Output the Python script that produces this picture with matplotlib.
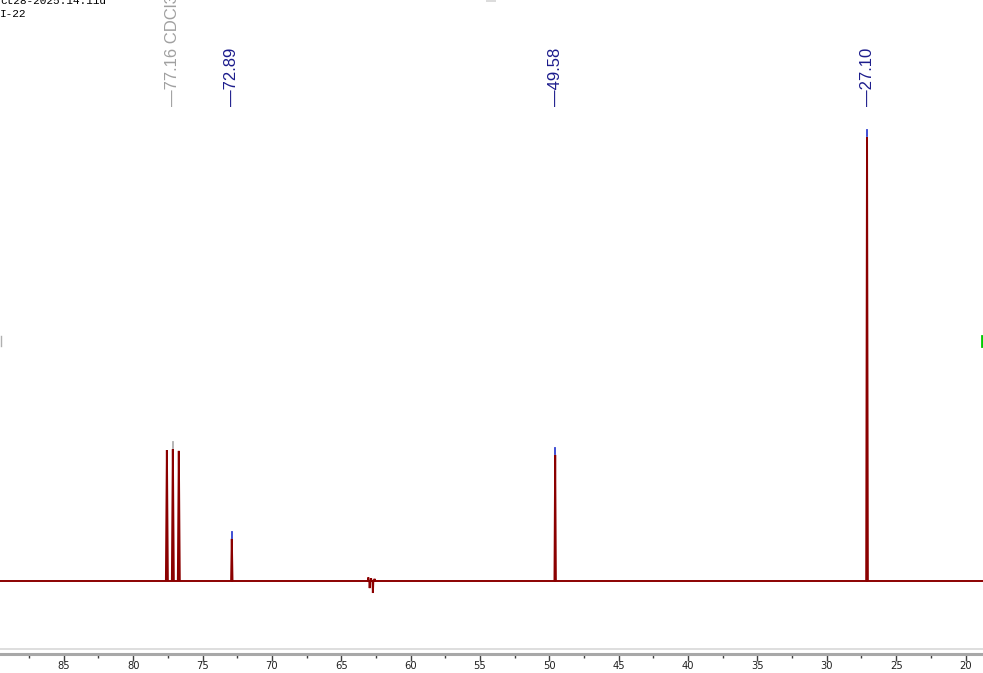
import numpy
import matplotlib
matplotlib.use("Agg")
import matplotlib.pyplot as plt
import matplotlib.transforms as mtransforms

# peak list (ppm, relative height, biggest = 100)
peak_ppm = [77.57, 77.14, 76.71, 72.89, 49.58, 27.10]
peak_height = [29.5, 29.7, 29.3, 9.5, 28.4, 100.0]
peak_width = [0.07, 0.07, 0.07, 0.05, 0.05, 0.06]

# small negative artifact near 62.7 ppm
artifact_ppm = [63.05, 62.95, 62.85, 62.72, 62.60]
artifact_height = [0.8, -1.6, 0.6, -2.7, 0.5]

# labels at the top
label_ppm = [77.16, 72.89, 49.58, 27.10]
label_text = ["\u201477.16 CDCl3", "\u201472.89", "\u201449.58", "\u201427.10"]
label_color = ["#a0a0a0", "#1c1c8c", "#1c1c8c", "#1c1c8c"]

# peak pick marks (ppm, top of peak)
mark_ppm = [77.14, 72.89, 49.58, 27.10]
mark_height = [29.7, 9.5, 28.4, 100.0]
mark_color = ["#b0b0b0", "#3040d0", "#3040d0", "#3040d0"]

major_ticks = [85, 80, 75, 70, 65, 60, 55, 50, 45, 40, 35, 30, 25, 20]

W, H = 983, 673
fig = plt.figure(figsize=(W / 100, H / 100), dpi=100)
ax = fig.add_axes([0, 19 / H, 1, 1 - 19 / H])

# build spectrum polyline from the peak list
pts = [(89.6, 0.0)]
allpk = sorted(
    [(p, h, w) for p, h, w in zip(peak_ppm, peak_height, peak_width)]
    + [(p, h, 0.03) for p, h in zip(artifact_ppm, artifact_height)],
    key=lambda t: -t[0])
for p, h, w in allpk:
    pts.append((p + w, 0.0))
    pts.append((p, h))
    pts.append((p - w, 0.0))
pts.append((18.7, 0.0))
xs = [q[0] for q in pts]
ys = [q[1] for q in pts]
ax.plot(xs, ys, color="#8b0000", lw=1.4, solid_joinstyle="miter")

ppx = 4.44  # pixels per intensity unit
for p, h, c in zip(mark_ppm, mark_height, mark_color):
    ax.plot([p, p], [h + 1 / ppx, h + 7 / ppx], color=c, lw=1.3)

ax.set_xlim(89.6, 18.74)
ax.set_ylim(-73 / ppx, (654 - 73) / ppx)

for s in ["top", "left", "right"]:
    ax.spines[s].set_visible(False)
ax.spines["bottom"].set_color("#a8a8a8")
ax.spines["bottom"].set_linewidth(2.2)
ax.set_yticks([])
ax.set_xticks(major_ticks)
ax.set_xticks([87.5] + list(numpy.array(major_ticks[:-1]) - 2.5), minor=True)
ax.tick_params(axis="x", which="major", length=5, width=1, color="#404040",
               pad=0, labelsize=8, labelcolor="#202020")
ax.tick_params(axis="x", which="minor", length=3, width=1, color="#404040")
for t in ax.get_xticklabels():
    t.set_family("DejaVu Sans")
    t.set_stretch("condensed")

# faint line above the scale
fig.add_artist(plt.Line2D([0, 1], [1 - 649 / H, 1 - 649 / H],
                          transform=fig.transFigure, color="#d8d8d8", lw=1.2))

# top labels
trans = mtransforms.blended_transform_factory(ax.transData, fig.transFigure)
for p, t, c in zip(label_ppm, label_text, label_color):
    ax.text(p, 1 - 106 / H, t, rotation=90, ha="center", va="bottom",
            color=c, fontsize=12, family=["Liberation Sans", "DejaVu Sans"],
            transform=trans, clip_on=False)

# header text top-left
fig.text(0.0, 1 - 1 / H, "ct28-2025.14.11d", fontsize=8, family="Liberation Mono",
         va="center", ha="left", color="black")
fig.text(0.0, 1 - 14 / H, "I-22", fontsize=8, family="Liberation Mono",
         va="center", ha="left", color="black")

# small markers at the edges
fig.add_artist(plt.Rectangle((486 / W, 1 - 2 / H), 10 / W, 2 / H,
                             transform=fig.transFigure, color="#dcdcdc", lw=0))
fig.add_artist(plt.Line2D([981.5 / W, 981.5 / W], [1 - 336 / H, 1 - 346 / H],
                          transform=fig.transFigure, color="#00cc00", lw=2))
fig.add_artist(plt.Line2D([0.5 / W, 0.5 / W], [1 - 336 / H, 1 - 346 / H],
                          transform=fig.transFigure, color="#b0b0b0", lw=1))

fig.savefig("out.png", dpi=100)
